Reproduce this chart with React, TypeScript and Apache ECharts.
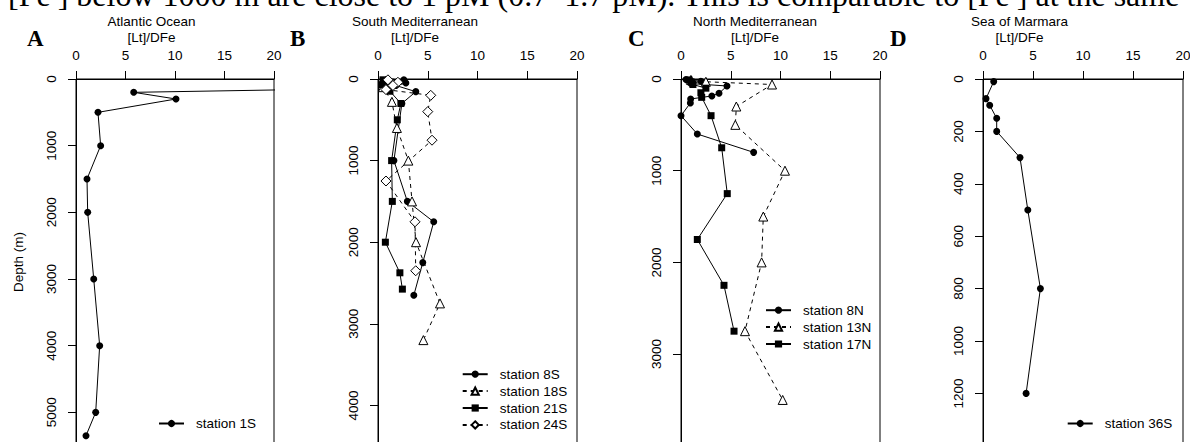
import React, { useEffect, useRef } from 'react';
import * as echarts from 'echarts';

const SANS = '"Liberation Sans", Arial, sans-serif';
const SERIF = '"Liberation Serif", "Times New Roman", serif';
const FS = 13.5;

// [Lt]/DFe ratio vs depth (m), one list of [ratio, depth] pairs per station
const station1S: [number, number][] = [
  [46, 100], [5.83, 200], [10.1, 300], [2.22, 500], [2.49, 1000], [1.11, 1500],
  [1.18, 2000], [1.79, 3000], [2.39, 4000], [1.99, 5000], [1.01, 5350],
];

const station8S: [number, number][] = [
  [2.6, 10], [1.2, 30], [2.8, 50], [1.8, 80], [3.8, 155], [2.4, 300],
  [1.6, 1000], [2.95, 1500], [5.6, 1750], [4.5, 2250], [3.6, 2650],
];
const station18S: [number, number][] = [
  [0.8, 20], [1.5, 50], [0.5, 100], [1.4, 280], [1.9, 600], [3.05, 1000],
  [3.42, 1500], [3.82, 2000], [6.23, 2750], [4.56, 3200],
];
const station21S: [number, number][] = [
  [0.5, 10], [1.0, 40], [0.4, 70], [0.8, 100], [1.2, 150], [2.3, 300],
  [1.94, 500], [1.37, 1000], [1.44, 1500], [0.74, 2000], [2.2, 2375], [2.45, 2575],
];
const station24S: [number, number][] = [
  [1.0, 10], [2.0, 40], [1.5, 80], [0.8, 130], [5.3, 200], [5.0, 400],
  [5.43, 750], [0.8, 1250], [3.72, 1750], [3.79, 2350],
];

const station8N: [number, number][] = [
  [0.5, 5], [2.0, 25], [1.0, 50], [4.62, 76], [3.82, 156], [3.1, 185],
  [0.97, 218], [0.94, 262], [0.0, 400], [1.64, 600], [7.3, 800],
];
const station13N: [number, number][] = [
  [1.0, 10], [2.5, 30], [9.15, 60], [5.56, 300], [5.46, 500], [10.45, 1000],
  [8.27, 1500], [8.1, 2000], [6.43, 2750], [10.22, 3500],
];
const station17N: [number, number][] = [
  [0.8, 10], [1.0, 30], [1.2, 60], [2.5, 100], [2.0, 150], [2.08, 200],
  [3.02, 400], [4.09, 750], [4.65, 1250], [1.64, 1750], [4.32, 2250], [5.33, 2750],
];

const station36S: [number, number][] = [
  [1.07, 10], [0.3, 75], [0.67, 100], [1.37, 150], [1.37, 200], [3.7, 300],
  [4.48, 500], [5.74, 800], [4.31, 1200],
];

const RATIO_MIN = 0;
const RATIO_MAX = 20;
const RATIO_STEP = 5;

type Marker = 'dot' | 'triangle' | 'square' | 'diamond';

interface StationDef {
  name: string;
  data: [number, number][];
  marker: Marker;
}

interface PanelDef {
  letter: string;
  title: string;
  left: number;
  width: number;
  pxPerM: number;
  depthMax: number;
  depthStep: number;
  lastLabel: number;
  titleX: number;
  letterX: number;
  legendLeft: number;
  legendTop: number;
  stations: StationDef[];
}

const PLOT_TOP = 79;

const panels: PanelDef[] = [
  {
    letter: 'A', title: 'Atlantic Ocean', left: 76, width: 198, pxPerM: 0.06667,
    depthMax: 5600, depthStep: 1000, lastLabel: 5000, titleX: 151.5, letterX: 27,
    legendLeft: 158, legendTop: 416.5,
    stations: [{ name: 'station 1S', data: station1S, marker: 'dot' }],
  },
  {
    letter: 'B', title: 'South Mediterranean', left: 378, width: 199, pxPerM: 0.0816,
    depthMax: 4600, depthStep: 1000, lastLabel: 4000, titleX: 415, letterX: 290,
    legendLeft: 461.7, legendTop: 367.2,
    stations: [
      { name: 'station 8S', data: station8S, marker: 'dot' },
      { name: 'station 18S', data: station18S, marker: 'triangle' },
      { name: 'station 21S', data: station21S, marker: 'square' },
      { name: 'station 24S', data: station24S, marker: 'diamond' },
    ],
  },
  {
    letter: 'C', title: 'North Mediterranean', left: 681, width: 199, pxPerM: 0.0917,
    depthMax: 3980, depthStep: 1000, lastLabel: 3000, titleX: 755, letterX: 628,
    legendLeft: 765, legendTop: 303.2,
    stations: [
      { name: 'station 8N', data: station8N, marker: 'dot' },
      { name: 'station 13N', data: station13N, marker: 'triangle' },
      { name: 'station 17N', data: station17N, marker: 'square' },
    ],
  },
  {
    letter: 'D', title: 'Sea of Marmara', left: 983, width: 200, pxPerM: 0.262,
    depthMax: 1450, depthStep: 200, lastLabel: 1200, titleX: 1019.5, letterX: 890,
    legendLeft: 1066.7, legendTop: 416.5,
    stations: [{ name: 'station 36S', data: station36S, marker: 'dot' }],
  },
];

function markerStyle(marker: Marker) {
  const solid = { color: '#000', width: 1, type: 'solid' as const };
  const dashed = { color: '#000', width: 1, type: [4, 4] };
  switch (marker) {
    case 'triangle':
      return {
        symbol: 'triangle', symbolSize: 9, lineStyle: dashed,
        itemStyle: { color: '#fff', borderColor: '#000', borderWidth: 1 },
      };
    case 'square':
      return {
        symbol: 'rect', symbolSize: 7, lineStyle: solid,
        itemStyle: { color: '#000', borderColor: '#000', borderWidth: 0 },
      };
    case 'diamond':
      return {
        symbol: 'diamond', symbolSize: 10, lineStyle: dashed,
        itemStyle: { color: '#fff', borderColor: '#000', borderWidth: 1 },
      };
    default:
      return {
        symbol: 'circle', symbolSize: 7, lineStyle: solid,
        itemStyle: { color: '#000', borderColor: '#000', borderWidth: 0 },
      };
  }
}

function buildOption() {
  const grid: any[] = [];
  const xAxis: any[] = [];
  const yAxis: any[] = [];
  const series: any[] = [];
  const legend: any[] = [];
  const graphic: any[] = [];

  const text = (x: number, y: number, s: string, font: string, extra: any = {}) => ({
    type: 'text',
    x,
    y,
    silent: true,
    ...extra,
    style: {
      text: s,
      font,
      fill: '#000',
      align: extra.align || 'center',
      textAlign: extra.align || 'center',
      verticalAlign: 'middle',
      textVerticalAlign: 'middle',
    },
  });

  panels.forEach((p, i) => {
    grid.push({
      left: p.left,
      top: PLOT_TOP,
      width: p.width,
      height: p.depthMax * p.pxPerM,
      show: true,
      borderColor: '#000',
      borderWidth: 1,
      backgroundColor: 'transparent',
      containLabel: false,
      outerBoundsMode: 'none',
    });
    xAxis.push({
      type: 'value',
      gridIndex: i,
      position: 'top',
      min: RATIO_MIN,
      max: RATIO_MAX,
      interval: RATIO_STEP,
      axisLine: { show: true, onZero: false, lineStyle: { color: '#000', width: 1 } },
      axisTick: { show: true, length: 8, lineStyle: { color: '#000', width: 1 } },
      axisLabel: { margin: 17, fontSize: FS, color: '#000', fontFamily: SANS },
      splitLine: { show: false },
    });
    yAxis.push({
      type: 'value',
      gridIndex: i,
      inverse: true,
      min: 0,
      max: p.depthMax,
      interval: p.depthStep,
      axisLine: { show: true, onZero: false, lineStyle: { color: '#000', width: 1 } },
      axisTick: { show: true, length: 8, lineStyle: { color: '#000', width: 1 } },
      axisLabel: {
        rotate: 90,
        margin: 18,
        fontSize: FS,
        color: '#000',
        fontFamily: SANS,
        formatter: (v: number) =>
          v % p.depthStep === 0 && v <= p.lastLabel ? String(v) : '',
      },
      splitLine: { show: false },
    });
    p.stations.forEach((st) => {
      series.push({
        type: 'line',
        name: st.name,
        xAxisIndex: i,
        yAxisIndex: i,
        data: st.data,
        showSymbol: true,
        clip: true,
        ...markerStyle(st.marker),
      });
    });
    legend.push({
      data: p.stations.map((s) => s.name),
      orient: 'vertical',
      left: p.legendLeft,
      top: p.legendTop,
      padding: 0,
      itemWidth: 25,
      itemHeight: 9,
      itemGap: 2.9,
      selectedMode: false,
      textStyle: {
        fontSize: FS,
        lineHeight: 13.5,
        color: '#000',
        fontFamily: SANS,
        padding: [0, 0, 0, 7],
      },
    });
    graphic.push(text(p.titleX, 21, p.title, `${FS}px ${SANS}`));
    graphic.push(text(p.titleX, 37.5, '[Lt]/DFe', `${FS}px ${SANS}`));
    graphic.push(
      text(p.letterX, 38.5, p.letter, `bold 23px ${SERIF}`, { align: 'left' })
    );
  });

  graphic.push(
    text(18, 262, 'Depth (m)', `${FS}px ${SANS}`, { rotation: Math.PI / 2 })
  );
  graphic.push(
    text(
      8,
      -5,
      '[Fe\u2032] below 1000 m are close to 1 pM (0.7\u20131.7 pM). This is comparable to [Fe\u2032] at the same',
      `32px ${SERIF}`,
      { align: 'left' }
    )
  );

  return {
    animation: false,
    backgroundColor: '#fff',
    textStyle: { fontFamily: SANS },
    grid,
    xAxis,
    yAxis,
    legend,
    series,
    graphic,
  };
}

export default function App() {
  const ref = useRef<HTMLDivElement>(null);

  useEffect(() => {
    if (!ref.current) return;
    const chart = echarts.init(ref.current, undefined, { renderer: 'svg' });
    chart.setOption(buildOption() as any);
    return () => chart.dispose();
  }, []);

  return (
    <div
      ref={ref}
      style={{ position: 'absolute', left: 0, top: 0, width: 1190, height: 442, overflow: 'hidden' }}
    />
  );
}
